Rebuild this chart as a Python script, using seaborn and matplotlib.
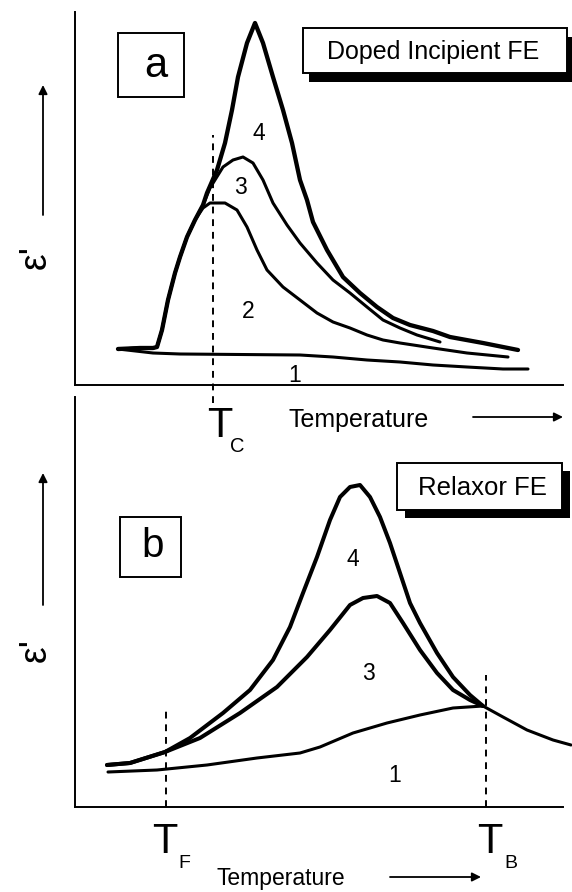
import pandas as pd
import seaborn as sns
import matplotlib.pyplot as plt
from matplotlib.patches import Rectangle

# Panel a - doped incipient ferroelectric (temperature, eps'), arbitrary units
a_t1 = [43, 78, 105, 225, 258, 292, 325, 358, 392, 428, 453]
a_e1 = [36, 32, 31, 30, 28, 25, 23, 20, 18, 16, 16]
a_t2 = [43, 65, 78, 82, 87, 93, 100, 105, 112, 120, 128, 135, 150, 162, 172, 182,
        192, 208, 225, 242, 258, 275, 292, 308, 325, 358, 392, 433]
a_e2 = [36, 37, 37, 38, 55, 85, 112, 128, 148, 165, 177, 182, 182, 175, 158, 135,
        115, 98, 85, 72, 63, 57, 50, 45, 42, 37, 32, 28]
a_t3 = [43, 65, 78, 82, 87, 93, 100, 105, 112, 120, 128, 135, 148, 158, 168, 178,
        188, 198, 212, 225, 242, 258, 275, 292, 308, 325, 342, 365]
a_e3 = [36, 37, 37, 38, 55, 85, 112, 128, 148, 165, 180, 197, 218, 225, 228, 222,
        205, 182, 160, 142, 122, 105, 92, 78, 65, 57, 50, 43]
a_t4 = [43, 65, 78, 82, 87, 93, 100, 105, 112, 120, 128, 132, 142, 150, 157, 163,
        172, 180, 188, 198, 208, 217, 225, 232, 238, 252, 268, 285, 302, 318, 335,
        358, 375, 408, 443]
a_e4 = [36, 37, 37, 38, 55, 85, 112, 128, 148, 165, 180, 192, 215, 242, 275, 308,
        342, 362, 342, 308, 275, 242, 205, 185, 163, 135, 108, 92, 78, 67, 60,
        54, 48, 42, 35]

# Panel b - relaxor ferroelectric
b_t1 = [33, 82, 132, 182, 225, 245, 278, 312, 345, 378, 408, 428, 452, 478, 496]
b_e1 = [35, 37, 42, 49, 54, 60, 74, 84, 92, 99, 101, 90, 77, 67, 62]
b_t3 = [32, 55, 90, 125, 165, 202, 232, 255, 275, 288, 302, 315, 328, 345, 362,
        378, 395, 408]
b_e3 = [42, 44, 55, 69, 94, 120, 150, 177, 202, 209, 211, 204, 184, 157, 134,
        117, 107, 101]
b_t4 = [32, 55, 90, 115, 148, 175, 198, 215, 228, 242, 255, 265, 275, 285, 295,
        305, 315, 325, 335, 345, 362, 378, 395, 408]
b_e4 = [42, 44, 55, 69, 94, 117, 147, 180, 214, 250, 287, 310, 320, 322, 310,
        290, 264, 234, 204, 184, 154, 130, 112, 101]

# characteristic temperatures
t_c = 138
t_f = 91
t_b = 411

# curve number labels (temperature, eps')
a_labels = {"4": (184, 252), "3": (165, 197), "2": (173, 73), "1": (220, 9)}
b_labels = {"4": (278, 247), "3": (293, 134), "1": (320, 31)}

sns.set_theme(style="white")
plt.rcParams['font.family'] = ['Liberation Sans', 'DejaVu Sans']
plt.rcParams['text.color'] = 'black'

W, H = 572, 892
fig = plt.figure(figsize=(W / 100, H / 100), dpi=100)


def px_axes(x0, y0, x1, y1):
    # axes box given in pixel coords of the picture (y downwards)
    return fig.add_axes([x0 / W, 1 - y1 / H, (x1 - x0) / W, (y1 - y0) / H])


ax_a = px_axes(75, 12, 563, 385)
ax_b = px_axes(75, 397, 563, 807)

for ax in (ax_a, ax_b):
    sns.despine(ax=ax)
    for s in ('left', 'bottom'):
        ax.spines[s].set_linewidth(1.4)
        ax.spines[s].set_color('black')
    ax.patch.set_alpha(0)


def curve(ax, t, e, lw):
    df = pd.DataFrame({'T': t, 'eps': e})
    sns.lineplot(data=df, x='T', y='eps', ax=ax, color='black', lw=lw,
                 sort=False, estimator=None, solid_joinstyle='round',
                 clip_on=False)


curve(ax_a, a_t1, a_e1, 2.2)
curve(ax_a, a_t2, a_e2, 2.2)
curve(ax_a, a_t3, a_e3, 2.2)
curve(ax_a, a_t4, a_e4, 3.1)
curve(ax_b, b_t1, b_e1, 2.2)
curve(ax_b, b_t3, b_e3, 2.9)
curve(ax_b, b_t4, b_e4, 2.9)

dash = dict(color='black', lw=1.4, ls=(0, (3.5, 3)), clip_on=False)
ax_a.plot([t_c, t_c], [-18, 250], **dash)
ax_b.plot([t_f, t_f], [0, 101], **dash)
ax_b.plot([t_b, t_b], [0, 132], **dash)

for ax, labels in ((ax_a, a_labels), (ax_b, b_labels)):
    for k, (x, y) in labels.items():
        ax.text(x, y, k, fontsize=16.5, ha='center', va='center')

for ax in (ax_a, ax_b):
    ax.set_xlim(0, 488)
    ax.set_xticks([])
    ax.set_yticks([])
    ax.set_xlabel('')
    ax.set_ylabel('')
ax_a.set_ylim(0, 373)
ax_b.set_ylim(0, 410)

# overlay in picture pixel coords for the decorations
ov = fig.add_axes([0, 0, 1, 1], zorder=5)
ov.set_xlim(0, W)
ov.set_ylim(H, 0)
ov.axis('off')


def box(x, y, w, h, shadow=None):
    if shadow:
        ov.add_patch(Rectangle((x + shadow[0], y + shadow[1]), w, h,
                               fc='black', ec='none', clip_on=False))
    ov.add_patch(Rectangle((x, y), w, h, fc='white', ec='black', lw=1.4,
                           clip_on=False))


box(118, 33, 66, 64)
ov.text(156, 77, 'a', fontsize=30, ha='center', va='baseline')
box(120, 517, 61, 60)
ov.text(153, 557, 'b', fontsize=29, ha='center', va='baseline')

box(303, 28, 264, 45, shadow=(6, 9))
ov.text(433, 59, 'Doped Incipient FE', fontsize=18, ha='center', va='baseline')
box(397, 463, 165, 47, shadow=(8, 8))
ov.text(482, 495, 'Relaxor FE', fontsize=18.5, ha='center', va='baseline')

arrow = dict(arrowstyle='-|>', color='black', lw=1.3, mutation_scale=13,
             shrinkA=0, shrinkB=0)
for yc, y0, y1 in ((257, 215, 85), (650, 605, 473)):
    ov.annotate('', xy=(43, y1), xytext=(43, y0), arrowprops=arrow)
    ov.text(36, yc, "ε'", fontsize=27, rotation=90, ha='center', va='center')

ov.text(359, 427, 'Temperature', fontsize=18, ha='center', va='baseline')
ov.annotate('', xy=(563, 417), xytext=(473, 417), arrowprops=arrow)
ov.text(281, 885, 'Temperature', fontsize=16.5, ha='center', va='baseline')
ov.annotate('', xy=(481, 877), xytext=(390, 877), arrowprops=arrow)

# T labels
ov.text(220, 437, 'T', fontsize=30, ha='center', va='baseline')
ov.text(237, 452, 'C', fontsize=14.5, ha='center', va='baseline')
ov.text(165, 853, 'T', fontsize=30, ha='center', va='baseline')
ov.text(184, 868, 'F', fontsize=14, ha='center', va='baseline')
ov.text(490, 853, 'T', fontsize=30, ha='center', va='baseline')
ov.text(511, 868, 'B', fontsize=14, ha='center', va='baseline')

fig.savefig('out.png', dpi=100)
